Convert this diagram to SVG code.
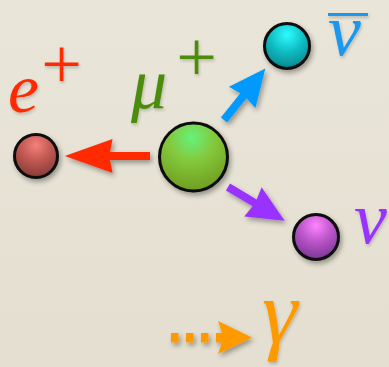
<svg xmlns="http://www.w3.org/2000/svg" width="389" height="367" viewBox="0 0 389 367">
  <style>
    .lbl { font-family: "Liberation Serif", "DejaVu Serif", serif; font-style: italic; }
    .plus { font-family: "Liberation Serif", "DejaVu Serif", serif; font-style: normal; text-anchor: middle; }
    .ball { stroke: #0a0a0a; stroke-width: 3; }
  </style>
  <defs>
    <linearGradient id="bg" x1="0" y1="0" x2="0" y2="1">
      <stop offset="0" stop-color="#e9e5d9"/>
      <stop offset="1" stop-color="#e4dfd0"/>
    </linearGradient>
    <filter id="shadow" x="-30%" y="-30%" width="170%" height="170%">
      <feDropShadow dx="2" dy="3" stdDeviation="2.5" flood-color="#000" flood-opacity="0.35"/>
    </filter>
    <filter id="tshadow" x="-30%" y="-30%" width="170%" height="170%">
      <feDropShadow dx="1" dy="2" stdDeviation="1.5" flood-color="#000" flood-opacity="0.2"/>
    </filter>
    <radialGradient id="gGreen" cx="0.47" cy="0.22" r="0.85" fx="0.47" fy="0.22">
      <stop offset="0" stop-color="#66f27a"/>
      <stop offset="0.4" stop-color="#84c83c"/>
      <stop offset="1" stop-color="#6c961c"/>
    </radialGradient>
    <radialGradient id="gRed" cx="0.5" cy="0.25" r="0.85" fx="0.5" fy="0.25">
      <stop offset="0" stop-color="#f4817a"/>
      <stop offset="0.4" stop-color="#c45a54"/>
      <stop offset="1" stop-color="#763430"/>
    </radialGradient>
    <radialGradient id="gCyan" cx="0.5" cy="0.25" r="0.85" fx="0.5" fy="0.25">
      <stop offset="0" stop-color="#2ffcff"/>
      <stop offset="0.4" stop-color="#12c4ca"/>
      <stop offset="1" stop-color="#00787e"/>
    </radialGradient>
    <radialGradient id="gPurple" cx="0.5" cy="0.25" r="0.85" fx="0.5" fy="0.25">
      <stop offset="0" stop-color="#ff84ff"/>
      <stop offset="0.4" stop-color="#be58cc"/>
      <stop offset="1" stop-color="#6c2c88"/>
    </radialGradient>
    <path id="arrow" d="M0,-4 L31,-4 L29,-17 L66,0 L29,17 L31,4 L0,4 Z"/>
  </defs>

  <rect width="389" height="367" fill="url(#bg)"/>

  <g id="connectors" filter="url(#shadow)">
    <use href="#arrow" fill="#ff2a00" transform="translate(150,156) rotate(180) scale(1.29,1)"/>
    <use href="#arrow" fill="#0099ff" transform="translate(224,120) rotate(-51.2)"/>
    <use href="#arrow" fill="#9933ff" transform="translate(228,187) rotate(30.8)"/>
    <g fill="#ff9900">
      <rect x="171" y="333" width="7.5" height="9.5"/>
      <rect x="186" y="333" width="7.5" height="9.5"/>
      <rect x="201" y="333" width="7.5" height="9.5"/>
      <path d="M216,333 L222,333 L218,321 L252,337.5 L218,354 L222,342.5 L216,342.5 Z"/>
    </g>
  </g>

  <g id="muon">
    <circle class="ball" cx="193.5" cy="157" r="34" fill="url(#gGreen)" filter="url(#shadow)"/>
    <g fill="#4c8c0c" filter="url(#tshadow)">
      <text class="lbl" x="131" y="108" font-size="72">μ</text>
      <text class="plus" x="196.5" y="81" font-size="72">+</text>
    </g>
  </g>

  <g id="positron">
    <circle class="ball" cx="36" cy="156" r="21.5" fill="url(#gRed)" filter="url(#shadow)"/>
    <g fill="#ff2a00" filter="url(#tshadow)">
      <text class="lbl" x="8" y="112" font-size="70">e</text>
      <text class="plus" x="61.5" y="88" font-size="72">+</text>
    </g>
  </g>

  <g id="antineutrino">
    <circle class="ball" cx="287" cy="46" r="22.5" fill="url(#gCyan)" filter="url(#shadow)"/>
    <g fill="#1a97f0" filter="url(#tshadow)">
      <text class="lbl" x="328" y="55" font-size="74">ν</text>
      <rect x="328" y="13" width="40" height="3"/>
    </g>
  </g>

  <g id="neutrino">
    <circle class="ball" cx="316" cy="237" r="22.5" fill="url(#gPurple)" filter="url(#shadow)"/>
    <text class="lbl" x="354" y="243" font-size="74" fill="#9933ff" filter="url(#tshadow)">ν</text>
  </g>

  <g id="photon">
    <text class="lbl" x="262" y="343" font-size="90" fill="#ff9900" filter="url(#tshadow)">γ</text>
  </g>
</svg>
